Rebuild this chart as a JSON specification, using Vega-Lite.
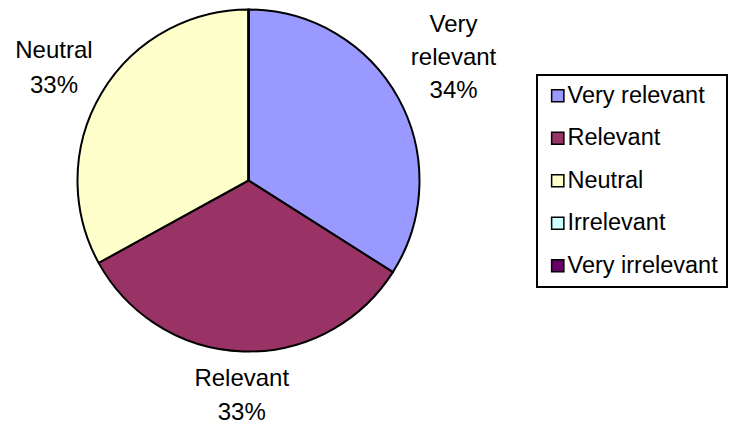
{
  "$schema": "https://vega.github.io/schema/vega-lite/v6.json",
  "width": 497,
  "height": 361,
  "autosize": {"type": "none"},
  "padding": {"left": 0, "top": 0, "right": 234, "bottom": 64},
  "background": "white",
  "config": {
    "view": {"stroke": null},
    "font": "Liberation Sans",
    "legend": {
      "orient": "none",
      "legendX": 537,
      "legendY": 75,
      "padding": 9,
      "strokeColor": "black",
      "strokeWidth": 2,
      "fillColor": "white",
      "symbolType": "square",
      "symbolSize": 150,
      "symbolStrokeColor": "black",
      "symbolStrokeWidth": 1.5,
      "labelFont": "Liberation Sans",
      "labelFontSize": 23.5,
      "labelColor": "black",
      "labelOffset": -2,
      "rowPadding": 17.5,
      "labelLimit": 300,
      "title": null
    }
  },
  "data": {
    "values": [
      {"category": "Very relevant", "value": 34, "order": 1, "label": "Very\nrelevant\n34%"},
      {"category": "Relevant", "value": 33, "order": 2, "label": "Relevant\n33%"},
      {"category": "Neutral", "value": 33, "order": 3, "label": "Neutral\n33%"},
      {"category": "Irrelevant", "value": 0, "order": 4, "label": "Irrelevant\n0%"},
      {"category": "Very irrelevant", "value": 0, "order": 5, "label": "Very irrelevant\n0%"}
    ]
  },
  "layer": [
    {
      "mark": {"type": "arc", "radius": 171, "stroke": "black", "strokeWidth": 2},
      "encoding": {
        "theta": {"field": "value", "type": "quantitative", "stack": true},
        "order": {"field": "order", "type": "quantitative"},
        "color": {
          "field": "category",
          "type": "nominal",
          "sort": ["Very relevant", "Relevant", "Neutral", "Irrelevant", "Very irrelevant"],
          "scale": {
            "domain": ["Very relevant", "Relevant", "Neutral", "Irrelevant", "Very irrelevant"],
            "range": ["#9999FF", "#993366", "#FFFFCC", "#CCFFFF", "#660066"]
          },
          "legend": {"title": null}
        }
      }
    },
    {
      "mark": {"type": "text", "radius": 234, "dy": -43, "fontSize": 24, "lineBreak": "\n", "lineHeight": 33, "align": "center", "baseline": "middle", "fill": "black"},
      "encoding": {
        "theta": {"field": "value", "type": "quantitative", "stack": true},
        "order": {"field": "order", "type": "quantitative"},
        "text": {"condition": {"test": "datum.category === 'Very relevant'", "field": "label"}, "value": ""}
      }
    },
    {
      "mark": {"type": "text", "radius": 215, "dy": -16, "fontSize": 24, "lineBreak": "\n", "lineHeight": 34, "align": "center", "baseline": "middle", "fill": "black"},
      "encoding": {
        "theta": {"field": "value", "type": "quantitative", "stack": true},
        "order": {"field": "order", "type": "quantitative"},
        "text": {"condition": {"test": "datum.category === 'Relevant'", "field": "label"}, "value": ""}
      }
    },
    {
      "mark": {"type": "text", "radius": 226, "dy": -14, "fontSize": 24, "lineBreak": "\n", "lineHeight": 35, "align": "center", "baseline": "middle", "fill": "black"},
      "encoding": {
        "theta": {"field": "value", "type": "quantitative", "stack": true},
        "order": {"field": "order", "type": "quantitative"},
        "text": {"condition": {"test": "datum.category === 'Neutral'", "field": "label"}, "value": ""}
      }
    }
  ]
}
